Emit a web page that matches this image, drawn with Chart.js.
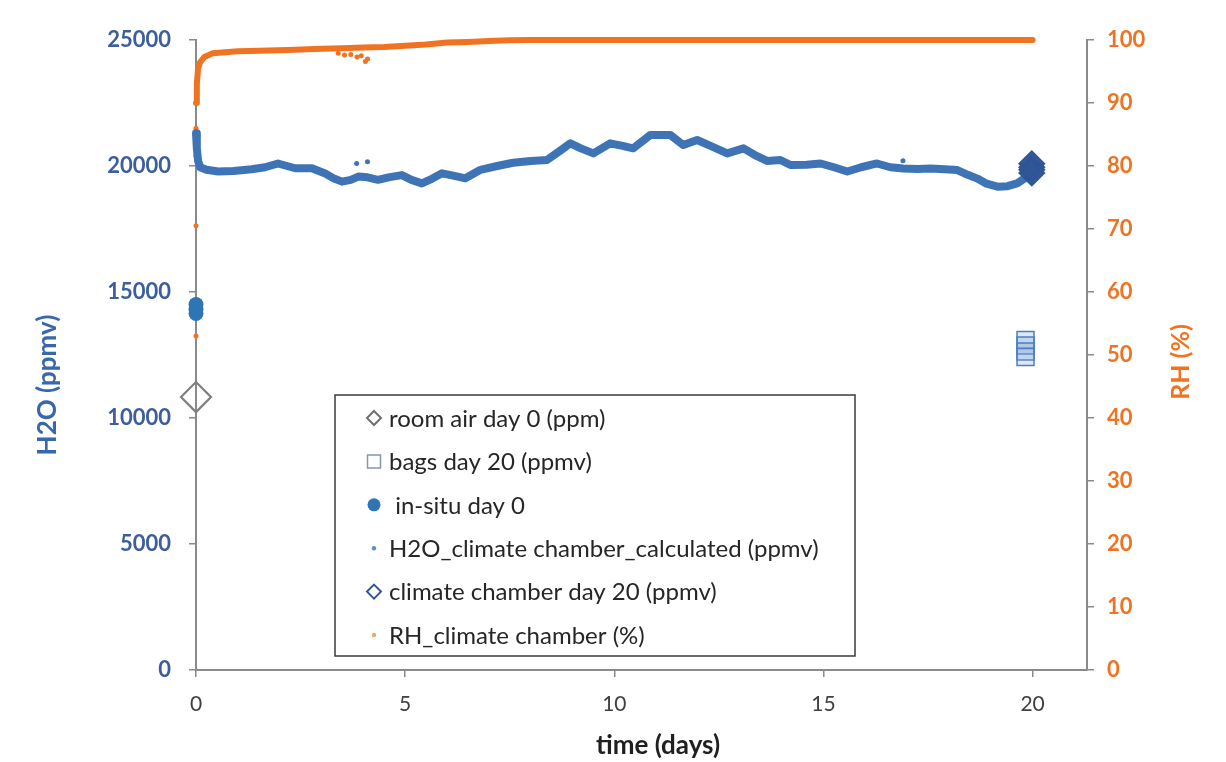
<!DOCTYPE html>
<html>
<head>
<meta charset="utf-8">
<script src="https://cdn.jsdelivr.net/npm/chart.js@4.4.1/dist/chart.umd.min.js"></script>
<style>
html,body{margin:0;padding:0;background:#ffffff;}
#wrap{width:1226px;height:762px;position:relative;}
</style>
</head>
<body>
<div id="wrap"><canvas id="c" width="1226" height="762"></canvas></div>
<script>
// ---------- tick labels ----------
const xTickValues = [0, 5, 10, 15, 20];
const leftTickValues = [0, 5000, 10000, 15000, 20000, 25000];
const rightTickValues = [0, 10, 20, 30, 40, 50, 60, 70, 80, 90, 100];

// ---------- axis titles ----------
const xTitle = 'time (days)';
const leftTitle = 'H2O (ppmv)';
const rightTitleText = 'RH (%)';

// ---------- series labels ----------
const seriesLabels = [
  'room air day 0 (ppm)',
  'bags day 20 (ppmv)',
  ' in-situ day 0',
  'H2O_climate chamber_calculated (ppmv)',
  'climate chamber day 20 (ppmv)',
  'RH_climate chamber (%)'
];

// ---------- data ----------
const roomAirDays = [0];
const roomAirPpm = [10830];

const bagsDays = [19.83, 19.83, 19.83, 19.83];
const bagsPpmv = [13100, 12880, 12640, 12420];

const inSituDays = [0, 0, 0];
const inSituPpmv = [14500, 14320, 14150];

const h2oCalcDays = [0, 0.02, 0.05, 0.1, 0.25, 0.53, 0.9, 1.33, 1.65, 1.96, 2.37, 2.77, 3.09, 3.3, 3.49, 3.7, 3.88, 4.1, 4.35, 4.6, 4.92, 5.15, 5.4, 5.65, 5.88, 6.15, 6.44, 6.8, 7.2, 7.58, 8.0, 8.39, 8.7, 8.95, 9.2, 9.5, 9.9, 10.2, 10.45, 10.86, 11.34, 11.65, 11.98, 12.3, 12.7, 13.09, 13.4, 13.65, 13.97, 14.21, 14.6, 14.93, 15.25, 15.57, 15.9, 16.28, 16.6, 16.91, 17.25, 17.56, 17.9, 18.2, 18.45, 18.68, 18.9, 19.16, 19.4, 19.63, 19.87];
const h2oCalcPpmv = [21300, 20700, 20200, 19950, 19850, 19780, 19800, 19870, 19950, 20100, 19910, 19910, 19700, 19500, 19380, 19450, 19580, 19550, 19450, 19550, 19640, 19450, 19310, 19500, 19710, 19620, 19510, 19850, 20000, 20130, 20200, 20240, 20600, 20900, 20700, 20500, 20900, 20800, 20700, 21230, 21230, 20830, 21030, 20800, 20500, 20700, 20400, 20200, 20240, 20040, 20050, 20100, 19950, 19780, 19950, 20100, 19950, 19900, 19880, 19900, 19870, 19840, 19650, 19500, 19300, 19180, 19200, 19310, 19580];
const h2oOutlierDays = [0, 0, 0, 3.84, 4.1, 16.9];
const h2oOutlierPpmv = [21100, 20700, 20400, 20100, 20170, 20210];

const chamberDay20Days = [19.98, 19.98, 19.98, 19.98];
const chamberDay20Ppmv = [20090, 19950, 19850, 19720];

const rhDays = [0, 0.02, 0.05, 0.1, 0.2, 0.4, 1.0, 1.5, 2.2, 3.0, 3.5, 4.0, 4.5, 5.0, 5.5, 6.0, 6.5, 7.0, 7.5, 8.0, 10, 12, 14, 16, 18, 20];
const rhPercent = [90, 93, 95.5, 96.5, 97.3, 97.9, 98.2, 98.3, 98.4, 98.6, 98.7, 98.8, 98.9, 99.1, 99.3, 99.6, 99.7, 99.85, 99.95, 100, 100, 100, 100, 100, 100, 100];
const rhOutlierDays = [0, 0, 0, 0, 3.4, 3.55, 3.7, 3.85, 3.95, 4.05, 4.1];
const rhOutlierPercent = [70.5, 53, 86, 84, 97.9, 97.6, 97.7, 97.3, 97.5, 96.6, 97.0];

// ---------- helpers ----------
const pts = (xs, ys) => xs.map((x, i) => ({x: x, y: ys[i]}));
const FONT = 'Lato, Carlito, Calibri, "Open Sans", sans-serif';

const BLUE_LINE = '#3E74B6';
const BLUE_DOT = '#2E75B6';
const DARK_BLUE = '#2F5597';
const ORANGE = '#F07322';
const GRAY = '#7F7F7F';

function drawMarker(ctx, style, x, y, r, stroke, fill, lw) {
  ctx.save();
  ctx.beginPath();
  if (style === 'diamond') {
    ctx.moveTo(x, y - r); ctx.lineTo(x + r, y); ctx.lineTo(x, y + r); ctx.lineTo(x - r, y); ctx.closePath();
  } else if (style === 'square') {
    ctx.rect(x - r, y - r, 2 * r, 2 * r);
  } else {
    ctx.arc(x, y, r, 0, Math.PI * 2);
  }
  if (fill) { ctx.fillStyle = fill; ctx.fill(); }
  if (stroke) { ctx.lineWidth = lw; ctx.strokeStyle = stroke; ctx.stroke(); }
  ctx.restore();
}

const legendBox = {
  id: 'legendBox',
  afterDatasetsDraw(chart) {
    const ctx = chart.ctx;
    const a = chart.chartArea;
    const bx = a.left + 139, by = a.top + 355, bw = 520, bh = 261;
    ctx.save();
    ctx.fillStyle = '#ffffff';
    ctx.fillRect(bx, by, bw, bh);
    ctx.lineWidth = 1.5;
    ctx.strokeStyle = '#3a3a3a';
    ctx.strokeRect(bx, by, bw, bh);
    const markers = [
      ['diamond', 7, '#6f6f6f', null, 2],
      ['square', 6.5, '#8497B0', null, 1.5],
      ['circle', 6.5, null, BLUE_DOT, 0],
      ['circle', 2.2, null, '#5B8FC9', 0],
      ['diamond', 7, DARK_BLUE, null, 2],
      ['circle', 2.2, null, '#F4A46E', 0]
    ];
    ctx.font = '24px ' + FONT;
    ctx.textBaseline = 'middle';
    ctx.textAlign = 'left';
    for (let i = 0; i < seriesLabels.length; i++) {
      const y = by + 23 + i * 43.4;
      const m = markers[i];
      drawMarker(ctx, m[0], bx + 39, y, m[1], m[2], m[3], m[4]);
      ctx.fillStyle = '#262626';
      ctx.fillText(seriesLabels[i], bx + 54, y + 1);
    }
    ctx.restore();
  }
};

const axisTitles = {
  id: 'axisTitles',
  afterDraw(chart) {
    const ctx = chart.ctx;
    const a = chart.chartArea;
    ctx.save();
    ctx.textAlign = 'center';
    ctx.textBaseline = 'middle';
    // left
    ctx.save();
    ctx.translate(48, a.top + 345);
    ctx.rotate(-Math.PI / 2);
    ctx.font = 'bold 26px ' + FONT;
    ctx.fillStyle = '#3867AA';
    ctx.fillText(leftTitle, 0, 0);
    ctx.restore();
    // right
    ctx.save();
    ctx.translate(1181, a.top + 322);
    ctx.rotate(-Math.PI / 2);
    ctx.font = 'bold 25px ' + FONT;
    ctx.fillStyle = ORANGE;
    ctx.fillText(rightTitleText, 0, 0);
    ctx.restore();
    // bottom
    ctx.font = 'bold 26px ' + FONT;
    ctx.fillStyle = '#1f1f1f';
    ctx.fillText(xTitle, a.left + 462, 746);
    ctx.restore();
  }
};

const setTicks = vals => scale => { scale.ticks = vals.map(v => ({value: v})); };
const plain = v => String(v);

new Chart(document.getElementById('c'), {
  type: 'scatter',
  data: {
    datasets: [
      { label: seriesLabels[0], data: pts(roomAirDays, roomAirPpm), yAxisID: 'y',
        pointStyle: 'rectRot', pointRadius: 15, borderColor: GRAY, backgroundColor: 'rgba(255,255,255,0)',
        borderWidth: 2.2, clip: false, order: 1 },
      { label: seriesLabels[1], data: pts(bagsDays, bagsPpmv), yAxisID: 'y',
        pointStyle: 'rect', pointRadius: 12, borderColor: '#4F7FC0', backgroundColor: 'rgba(120,160,215,0.25)',
        borderWidth: 1.5, clip: false, order: 1 },
      { label: seriesLabels[2], data: pts(inSituDays, inSituPpmv), yAxisID: 'y',
        pointStyle: 'circle', pointRadius: 7.5, borderColor: BLUE_DOT, backgroundColor: BLUE_DOT,
        borderWidth: 0, clip: false, order: 0 },
      { label: seriesLabels[3], data: pts(h2oCalcDays, h2oCalcPpmv), yAxisID: 'y', type: 'line',
        showLine: true, pointRadius: 0, borderColor: BLUE_LINE, borderWidth: 8, tension: 0,
        borderJoinStyle: 'round', borderCapStyle: 'round', fill: false, clip: false, order: 3 },
      { label: seriesLabels[3] + ' outliers', data: pts(h2oOutlierDays, h2oOutlierPpmv), yAxisID: 'y',
        pointStyle: 'circle', pointRadius: 2.5, borderWidth: 0, backgroundColor: BLUE_LINE, clip: false, order: 3 },
      { label: seriesLabels[4], data: pts(chamberDay20Days, chamberDay20Ppmv), yAxisID: 'y',
        pointStyle: 'rectRot', pointRadius: 12, borderColor: DARK_BLUE, backgroundColor: 'rgba(47,85,151,0.75)',
        borderWidth: 2.5, clip: false, order: 0 },
      { label: seriesLabels[5], data: pts(rhDays, rhPercent), yAxisID: 'y1', type: 'line',
        showLine: true, pointRadius: 0, borderColor: ORANGE, borderWidth: 6, tension: 0,
        borderJoinStyle: 'round', borderCapStyle: 'round', fill: false, clip: false, order: 4 },
      { label: seriesLabels[5] + ' outliers', data: pts(rhOutlierDays, rhOutlierPercent), yAxisID: 'y1',
        pointStyle: 'circle', pointRadius: 2.5, borderWidth: 0, backgroundColor: ORANGE, clip: false, order: 4 }
    ]
  },
  options: {
    responsive: false,
    animation: false,
    devicePixelRatio: 1,
    layout: { padding: { top: 40, left: 0, right: 0, bottom: 0 } },
    plugins: { legend: { display: false }, tooltip: { enabled: false } },
    scales: {
      x: {
        type: 'linear', position: 'bottom', min: 0, max: 21.3,
        afterBuildTicks: setTicks(xTickValues),
        afterFit: s => { s.height = 92; },
        ticks: { color: '#404040', font: { family: FONT, size: 21 }, padding: 15, callback: plain },
        grid: { drawOnChartArea: false, drawTicks: true, tickLength: 7, color: '#8a8a8a', lineWidth: 1.5 },
        border: { color: '#8a8a8a', width: 2 },
        title: { display: false }
      },
      y: {
        type: 'linear', position: 'left', min: 0, max: 25000,
        afterBuildTicks: setTicks(leftTickValues),
        afterFit: s => { s.width = 196; },
        ticks: { color: '#3D5E9C', font: { family: FONT, size: 22, weight: 'bold' }, padding: 18, callback: plain },
        grid: { drawOnChartArea: false, drawTicks: true, tickLength: 7, color: '#8a8a8a', lineWidth: 1.5 },
        border: { color: '#8a8a8a', width: 2 },
        title: { display: false }
      },
      y1: {
        type: 'linear', position: 'right', min: 0, max: 100,
        afterBuildTicks: setTicks(rightTickValues),
        afterFit: s => { s.width = 139; },
        ticks: { color: ORANGE, font: { family: FONT, size: 22, weight: 'bold' }, padding: 13, callback: plain },
        grid: { drawOnChartArea: false, drawTicks: true, tickLength: 7, color: '#8a8a8a', lineWidth: 1.5 },
        border: { color: '#8a8a8a', width: 2 },
        title: { display: false }
      }
    }
  },
  plugins: [legendBox, axisTitles]
});
</script>
</body>
</html>
